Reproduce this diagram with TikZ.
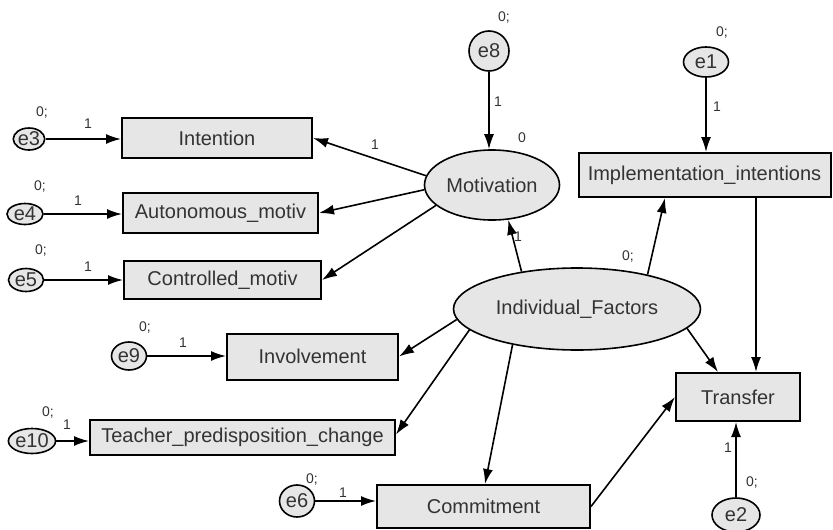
\documentclass[tikz,border=0pt]{standalone}
\usepackage{fontspec}
\setmainfont{Liberation Sans}
\usetikzlibrary{arrows.meta,shapes.geometric}
\definecolor{boxfill}{HTML}{E6E6E6}
\definecolor{txt}{HTML}{333333}
\begin{document}
\begin{tikzpicture}[x=1pt,y=-1pt,
  font=\fontsize{20}{23}\selectfont,
  obs/.style={draw=black,line width=2pt,fill=boxfill,text=txt,rectangle,inner sep=0pt},
  lat/.style={draw=black,line width=1.6pt,fill=boxfill,text=txt,ellipse,inner sep=0pt},
  err/.style={draw=black,line width=1.6pt,fill=boxfill,text=txt,ellipse,inner sep=0pt},
  arr/.style={line width=1.6pt,-{Latex[length=15pt,width=10pt]}},
  lbl/.style={text=txt,font=\fontsize{14}{16}\selectfont,inner sep=0pt}]
\useasboundingbox (0,0) rectangle (833,530);
% observed
\node[obs,minimum width=190pt,minimum height=40pt] (intention) at (217,138) {Intention};
\node[obs,minimum width=195pt,minimum height=40pt] (auto) at (220.5,213) {Autonomous\_motiv};
\node[obs,minimum width=197pt,minimum height=38pt] (contr) at (222.5,280) {Controlled\_motiv};
\node[obs,minimum width=171pt,minimum height=46pt] (invol) at (312.5,356.5) {Involvement};
\node[obs,minimum width=305pt,minimum height=35pt] (teacher) at (242.5,437.5) {Teacher\_predisposition\_change};
\node[obs,minimum width=213pt,minimum height=43pt] (commit) at (483.5,506.5) {Commitment};
\node[obs,minimum width=124pt,minimum height=48pt] (transfer) at (738,397) {Transfer};
\node[obs,minimum width=252pt,minimum height=44pt] (impl) at (704.5,175) {Implementation\_intentions};
% latent
\node[lat,minimum width=135pt,minimum height=70pt] (motiv) at (492,185) {Motivation};
\node[lat,minimum width=247pt,minimum height=82pt] (indiv) at (577,309) {Individual\_Factors};
% errors
\node[err,minimum width=28pt,minimum height=22pt] (e3) at (29,139) {e3};
\node[err,minimum width=36pt,minimum height=21pt] (e4) at (25,214) {e4};
\node[err,minimum width=35pt,minimum height=23pt] (e5) at (26,280) {e5};
\node[err,minimum width=40pt,minimum height=40pt] (e8) at (489,51) {e8};
\node[err,minimum width=45pt,minimum height=30pt] (e1) at (706,62) {e1};
\node[err,minimum width=35pt,minimum height=28pt] (e9) at (129,356) {e9};
\node[err,minimum width=40pt,minimum height=25pt] (e10) at (32,441) {e10};
\node[err,minimum width=35pt,minimum height=32pt] (e6) at (297,501) {e6};
\node[err,minimum width=48pt,minimum height=34pt] (e2) at (736,515) {e2};
% error arrows
\draw[arr] (e3) -- (e3 -| intention.west);
\draw[arr] (e4) -- (e4 -| auto.west);
\draw[arr] (e5) -- (e5 -| contr.west);
\draw[arr] (e9) -- (e9 -| invol.west);
\draw[arr] (e10) -- (e10 -| teacher.west);
\draw[arr] (e6) -- (e6 -| commit.west);
\draw[arr] (e8) -- (e8 |- motiv.north);
\draw[arr] (e1) -- (e1 |- impl.north);
\draw[arr] (e2) -- (e2 |- transfer.south);
% structural arrows
\draw[arr] (motiv.172) -- (intention.east);
\draw[arr] (motiv.184) -- (auto.east);
\draw[arr] (motiv.200) -- (contr.east);
\draw[arr] (indiv.146) -- (motiv.295);
\draw[arr] (indiv.26) -- ([xshift=-39.5pt]impl.south);
\draw[arr] ([xshift=51.5pt]impl.south) -- ([xshift=18pt]transfer.north);
\draw[arr] (indiv.-10) -- ([xshift=-20pt]transfer.north);
\draw[arr] (indiv.209) -- ([xshift=1.5pt]commit.north);
\draw[arr] (indiv.185) -- (invol.east);
\draw[arr] (indiv.191) -- ([yshift=3pt]teacher.east);
\draw[arr] (commit.east) -- (transfer.west);
% labels
\node[lbl] (l1) at (42,113) {0;};
\node[lbl] (l2) at (40,187) {0;};
\node[lbl] (l3) at (41,251) {0;};
\node[lbl] (l4) at (504,18) {0;};
\node[lbl] (l5) at (722,33) {0;};
\node[lbl] (l6) at (145,328) {0;};
\node[lbl] (l7) at (48,413) {0;};
\node[lbl] (l8) at (312,480) {0;};
\node[lbl] (l9) at (752,483) {0;};
\node[lbl] (l10) at (628,257) {0;};
\node[lbl] (l11) at (522,138) {0};
\node[lbl] (n1) at (88,124) {1};
\node[lbl] (n2) at (78,201) {1};
\node[lbl] (n3) at (88,267) {1};
\node[lbl] (n4) at (498,102) {1};
\node[lbl] (n5) at (717,107) {1};
\node[lbl] (n6) at (183,343) {1};
\node[lbl] (n7) at (67,425) {1};
\node[lbl] (n8) at (343,493) {1};
\node[lbl] (n9) at (728,448) {1};
\node[lbl] (n10) at (375,145) {1};
\node[lbl] (n11) at (518,237) {1};
\end{tikzpicture}
\end{document}
